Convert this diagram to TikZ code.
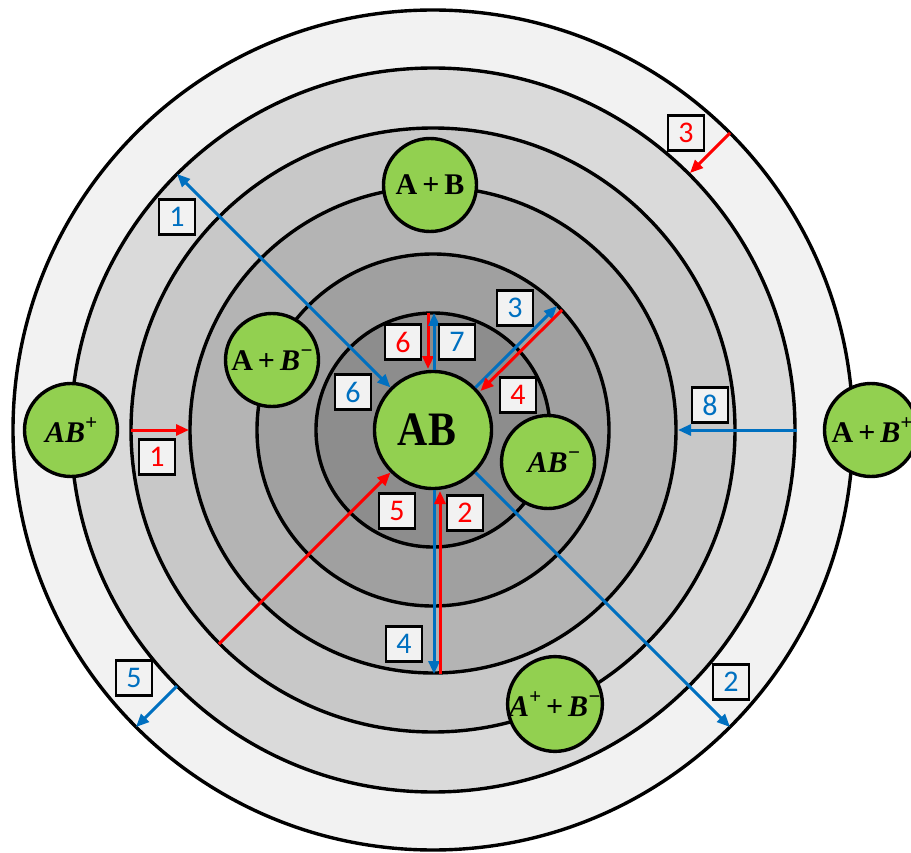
\documentclass[tikz,border=0pt]{standalone}
\usepackage{fontspec}
\usepackage{graphicx}
\setmainfont{Carlito}
\newfontfamily\tnr{Liberation Serif}
\usetikzlibrary{arrows.meta}
\definecolor{gA}{HTML}{F2F2F2}
\definecolor{gB}{HTML}{DADADA}
\definecolor{gC}{HTML}{C8C8C8}
\definecolor{gD}{HTML}{B4B4B4}
\definecolor{gE}{HTML}{A0A0A0}
\definecolor{gF}{HTML}{8D8D8D}
\definecolor{grn}{HTML}{92D050}
\definecolor{myblue}{HTML}{0070C0}
\definecolor{myred}{HTML}{FF0000}
\definecolor{boxfill}{HTML}{F2F2F2}
\newcommand{\sps}[1]{\raisebox{0.42em}{\fontsize{21}{21}\selectfont #1}}
\tikzset{
  Tr/.tip={Triangle[length=13pt,width=11pt]},
  ring/.style={draw=black, line width=3.4pt},
  gnode/.style={circle, draw=black, line width=3.4pt, fill=grn, minimum size=93pt, inner sep=0pt,
    font=\tnr\bfseries\fontsize{30}{30}\selectfont},
  barr/.style={draw=myblue, line width=3pt},
  rarr/.style={draw=myred, line width=3pt},
  lbl/.style={draw=black, line width=2.2pt, fill=boxfill, minimum width=36pt, minimum height=35pt,
    inner sep=0pt, font=\fontsize{30}{30}\selectfont},
}
\begin{document}
\begin{tikzpicture}[x=1pt,y=-1pt]
\useasboundingbox (0,0) rectangle (911,853);
\clip (0,0) rectangle (911,853);
\fill[white] (0,0) rectangle (911,853);
\coordinate (O) at (433,430);
% rings
\draw[ring, fill=gA] (O) circle[radius=420pt];
\draw[ring, fill=gB] (O) circle[radius=362pt];
\draw[ring, fill=gC] (O) circle[radius=302pt];
\draw[ring, fill=gD] (O) circle[radius=243pt];
\draw[ring, fill=gE] (O) circle[radius=176pt];
\draw[ring, fill=gF] (O) circle[radius=117pt];
% green nodes
\node[gnode] (ABp) at (71,430) {\itshape AB\sps{+}};
\node[gnode] (ApBp) at (871,430) {\hspace*{2pt}A\,+\,{\itshape B\sps{+}}};
\node[gnode] (ApB) at (430,185) {A\,+\,B};
\node[gnode] (ApBm) at (272,360) {A\,+\,{\itshape B\sps{−}}};
\node[gnode] (ABm) at (548,462) {\hspace*{12pt}{\itshape AB\sps{−}}};
\node[gnode] (ApmBm) at (555,704) {{\itshape A\sps{+}}\,+\,{\itshape B\sps{−}}};
\node[gnode, minimum size=117pt] (AB) at (433,430) {\scalebox{0.87}[1]{\fontsize{48}{48}\selectfont AB}\hspace*{12pt}};
% coordinates for free ends
\coordinate (b1) at (177,174);
\coordinate (b2) at (730,727);
\coordinate (b3) at (557,306);
\coordinate (r4s) at (562,310);
\coordinate (r4e) at (480.5,391);
\coordinate (r5s) at (219,644);
\coordinate (r6s) at (428,313);
\coordinate (r6e) at (428,369);
\coordinate (b7s) at (434,370);
\coordinate (b7e) at (434,313);
\coordinate (b4s) at (434,490);
\coordinate (b4e) at (434,674);
\coordinate (r2s) at (440,674);
\coordinate (r2e) at (440,491);
\coordinate (r1s) at (131,430);
\coordinate (r1e) at (189,430);
\coordinate (b8s) at (797,430);
\coordinate (b8e) at (678,430);
\coordinate (r3s) at (730,133);
\coordinate (r3e) at (690,173);
\coordinate (b5s) at (177,686);
\coordinate (b5e) at (136,727);
% arrows
\draw[barr, Tr-Tr] (AB) -- (b1);
\draw[barr, -Tr] (AB) -- (b2);
\draw[barr, -Tr] (AB) -- (b3);
\draw[rarr, -Tr] (r4s) -- (r4e);
\draw[rarr, -Tr] (r5s) -- (AB);
\draw[rarr, -Tr] (r6s) -- (r6e);
\draw[barr, -Tr] (b7s) -- (b7e);
\draw[barr, -Tr] (b4s) -- (b4e);
\draw[rarr, -Tr] (r2s) -- (r2e);
\draw[rarr, -Tr] (r1s) -- (r1e);
\draw[barr, -Tr] (b8s) -- (b8e);
\draw[rarr, -Tr] (r3s) -- (r3e);
\draw[barr, -Tr] (b5s) -- (b5e);
% labels
\node[lbl, text=myblue] (lb1) at (177,217) {1};
\node[lbl, text=myred] (lr1) at (157,457) {1};
\node[lbl, text=myblue] (lb5) at (134,678) {5};
\node[lbl, text=myred] (lr3) at (686,133) {3};
\node[lbl, text=myblue] (lb2) at (731,682) {2};
\node[lbl, text=myblue] (lb8) at (710,405) {8};
\node[lbl, text=myred] (lr6) at (403,342) {6};
\node[lbl, text=myblue] (lb7) at (457,342) {7};
\node[lbl, text=myblue] (lb3) at (515,308) {3};
\node[lbl, text=myblue] (lb6) at (353,392) {6};
\node[lbl, text=myred] (lr4) at (518,395) {4};
\node[lbl, text=myred] (lr5) at (397,511) {5};
\node[lbl, text=myred] (lr2) at (465,513) {2};
\node[lbl, text=myblue] (lb4) at (404,644) {4};
\end{tikzpicture}
\end{document}
